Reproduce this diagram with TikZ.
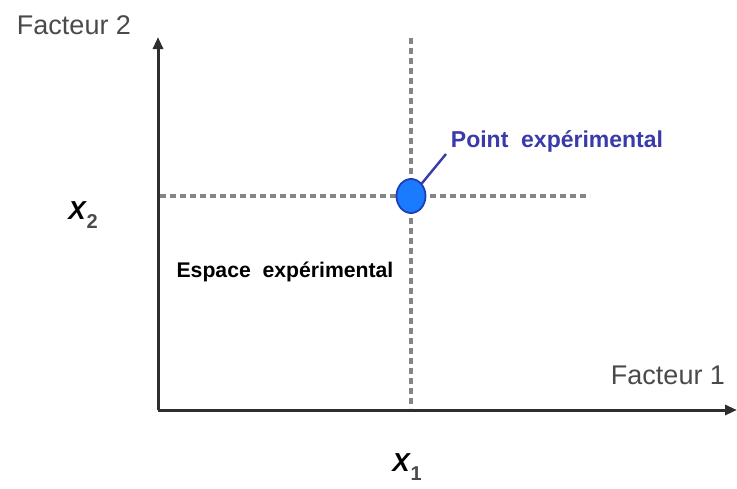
\documentclass[tikz,border=0pt]{standalone}
\usepackage{fontspec}
\setmainfont{Liberation Sans}
\usepackage{tikz}
\usetikzlibrary{shapes.geometric,arrows.meta,positioning,calc}

\definecolor{axisgray}{HTML}{2E2E2E}
\definecolor{guidegray}{HTML}{858585}
\definecolor{labelgray}{HTML}{4A4A4A}
\definecolor{pointblue}{HTML}{1A7BFF}
\definecolor{pointedge}{HTML}{1F3FB8}
\definecolor{textblue}{HTML}{3A3AAA}

\tikzset{
  axis/.style={line width=3pt, draw=axisgray, -{Triangle[length=12pt,width=10pt]}},
  guide/.style={line width=3.2pt, draw=guidegray, dash pattern=on 6pt off 4pt},
  axislabel/.style={font=\fontsize{27}{30}\selectfont, text=labelgray, inner sep=0pt},
  varlabel/.style={font=\fontsize{26}{28}\selectfont\bfseries\itshape, text=black, inner sep=0pt},
}

\begin{document}
\begin{tikzpicture}[x=1pt, y=-1pt]
  \useasboundingbox (0,0) rectangle (737,488);
  % Axes window
  \coordinate (O) at (158,410);
  \coordinate (ytop) at (158,37);
  \coordinate (xend) at (737,410);

  % Dotted guides through the experimental point
  \coordinate (vtop) at (411,38);
  \coordinate (vbot) at (411,408);
  \coordinate (hleft) at (160,196);
  \coordinate (hright) at (590,196);
  \draw[guide] (vtop) -- (vbot);
  \draw[guide] (hleft) -- (hright);

  % Axes
  \draw[axis] (O) -- (ytop);
  \draw[axis] (O) -- (xend);

  % Axis names
  \node[axislabel] (f2) at (74,25) {Facteur 2};
  \node[axislabel] (f1) at (668,375) {Facteur 1};

  % Levels
  \node[varlabel] (x2) at (83,215) {X\kern1pt\raisebox{-9pt}{\upshape\color{labelgray}\fontsize{20}{20}\selectfont 2}};
  \node[varlabel] (x1) at (407,467) {X\kern1pt\raisebox{-9pt}{\upshape\color{labelgray}\fontsize{20}{20}\selectfont 1}};

  % Experimental point
  \node[ellipse, minimum width=29pt, minimum height=34pt, inner sep=0pt,
        fill=pointblue, draw=pointedge, line width=1.8pt] (pt) at (411,196) {};
  \node[font=\fontsize{23}{26}\selectfont\bfseries, text=textblue, inner sep=0pt]
       (ptlabel) at (557,141) {Point\ \ expérimental};
  \coordinate (lead) at (446,154);
  \draw[line width=2.4pt, textblue] (pt.north east) -- (lead);

  % Domain label
  \node[font=\fontsize{21.2}{24}\selectfont\bfseries, inner sep=0pt]
       (espace) at (285,272) {Espace\ \ expérimental};
\end{tikzpicture}
\end{document}
